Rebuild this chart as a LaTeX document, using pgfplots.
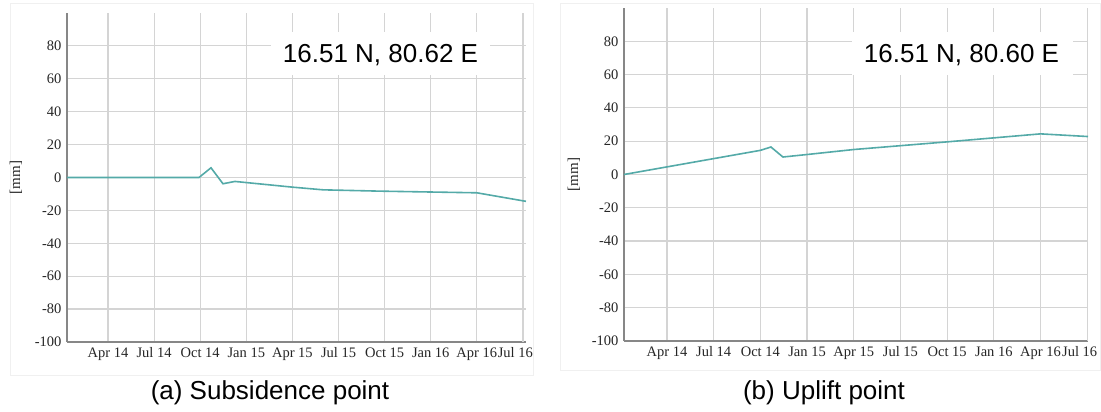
\documentclass[border=0pt]{standalone}
\usepackage{pgfplots}
\pgfplotsset{compat=1.18}
\usepackage{fontspec}
\setmainfont{Liberation Serif}
\newfontfamily\arialfont{Liberation Sans}
\definecolor{teal1}{RGB}{84,170,168}
\definecolor{gridc}{RGB}{212,212,212}
\definecolor{axc}{RGB}{135,135,135}
\definecolor{framec}{RGB}{240,240,240}

\pgfplotstableread{
x y
0.33 0
8.92 0
9.70 5.9
10.48 -3.8
11.26 -2.4
15.04 -5.9
17.0 -7.5
20.7 -8.3
27.0 -9.3
30.2 -14.5
}\subsdata

\pgfplotstableread{
x y
0.24 0
9.0 14.5
9.68 16.5
10.45 10.5
12.0 12.0
15.0 15.0
21.0 19.6
27.0 24.4
30.05 22.8
}\upliftdata

\pgfplotsset{
  myax/.style={
    scale only axis,
    anchor=south west,
    ymin=-100, ymax=100,
    axis x line=bottom, axis y line=left,
    axis line style={axc, line width=1.5pt, -},
    xtick={3,6,...,27},
    xticklabels={Apr 14,Jul 14,Oct 14,Jan 15,Apr 15,Jul 15,Oct 15,Jan 16,Apr 16},
    extra x ticks={30},
    extra x tick labels={Jul 16},
    extra x tick style={xticklabel style={anchor=north east, xshift=13.5pt}},
    ytick={-100,-80,...,80},
    grid=major,
    major grid style={gridc, line width=1.2pt},
    tick style={draw=none},
    ticklabel style={font=\fontsize{14.5}{14.5}\selectfont, text=black!85},
    /pgf/number format/assume math mode=true,
    clip=false,
  }
}

\begin{document}
\begin{tikzpicture}
\path[use as bounding box, fill=white] (0pt,0pt) rectangle (1101pt,412pt);
\draw[framec, line width=1pt] (10pt,36pt) rectangle (533pt,408pt);
\draw[framec, line width=1pt] (560pt,41pt) rectangle (1100.5pt,408pt);

\begin{axis}[myax, at={(67pt,70pt)}, width=459pt, height=329pt, xmin=0.33, xmax=30.2]
  \addplot[teal1, line width=1.6pt, no markers] table[x=x,y=y] {\subsdata};
\end{axis}

\begin{axis}[myax, at={(624pt,71pt)}, width=464pt, height=333pt, xmin=0.24, xmax=30.05]
  \addplot[teal1, line width=1.6pt, no markers] table[x=x,y=y] {\upliftdata};
\end{axis}

\fill[white] (271pt,337pt) rectangle (490pt,380pt);
\fill[white] (852pt,337pt) rectangle (1073pt,380pt);
\node[anchor=base, font=\arialfont\fontsize{26}{26}\selectfont, inner sep=0pt] at (380.5pt,349pt) {16.51 N, 80.62 E};
\node[anchor=base, font=\arialfont\fontsize{26}{26}\selectfont, inner sep=0pt] at (961.5pt,349pt) {16.51 N, 80.60 E};

\node[rotate=90, font=\fontsize{15}{15}\selectfont, text=black!85] at (16pt,234.5pt) {[mm]};
\node[rotate=90, font=\fontsize{15}{15}\selectfont, text=black!85] at (574pt,237.5pt) {[mm]};

\node[anchor=base, font=\arialfont\fontsize{26}{26}\selectfont, inner sep=0pt] at (270pt,12pt) {(a) Subsidence point};
\node[anchor=base, font=\arialfont\fontsize{26}{26}\selectfont, inner sep=0pt] at (824pt,12pt) {(b) Uplift point};
\end{tikzpicture}
\end{document}
